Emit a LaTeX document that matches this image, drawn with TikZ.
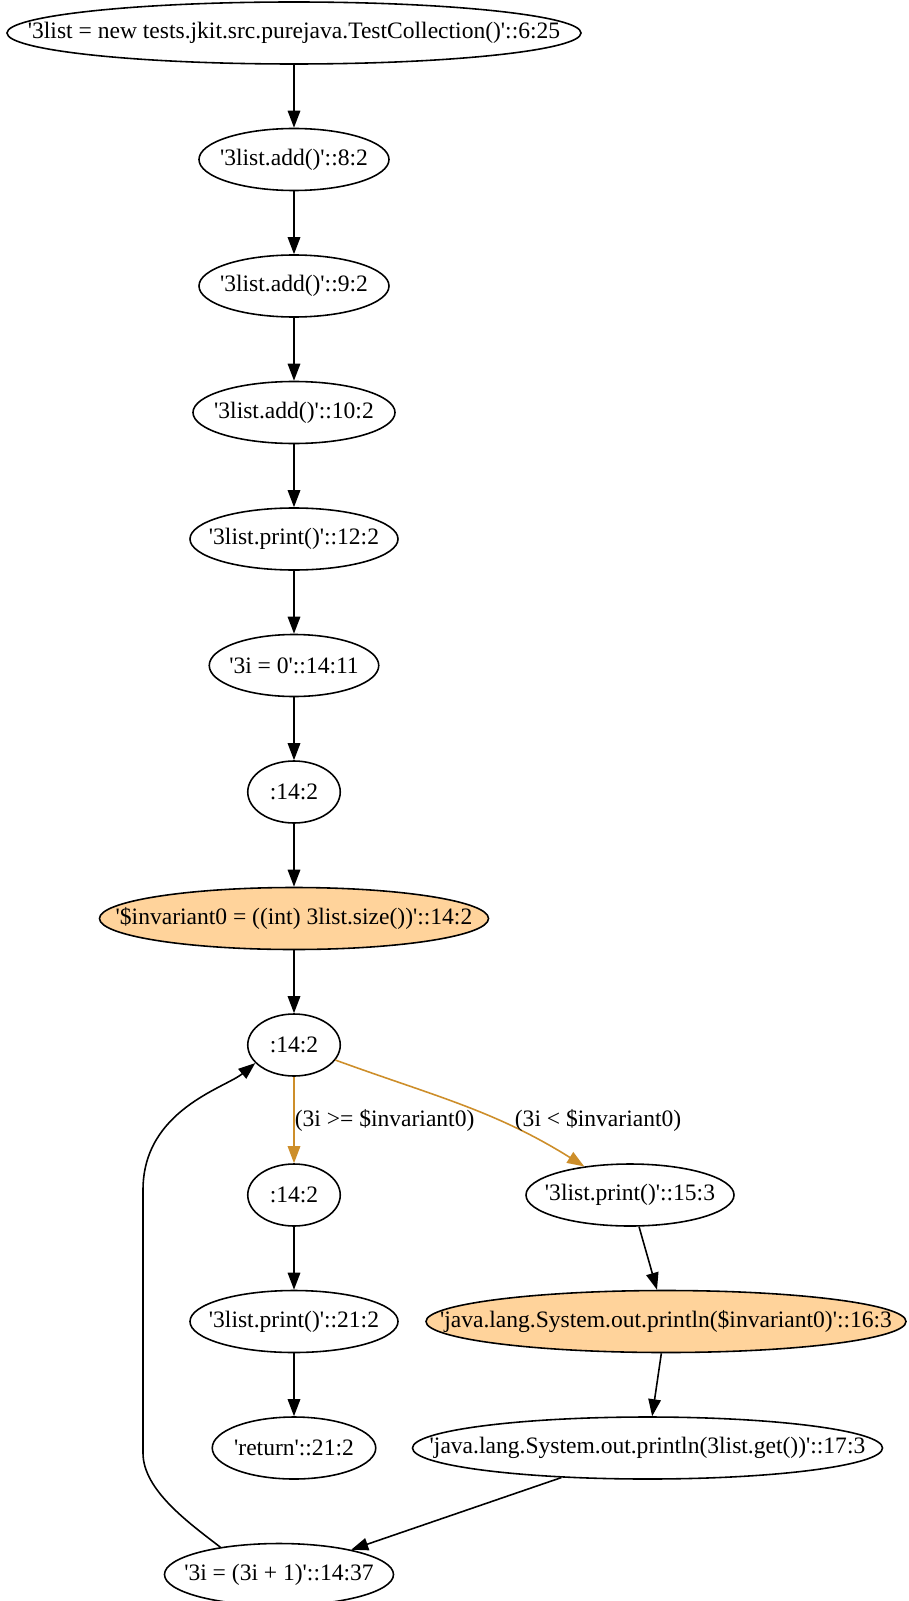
\documentclass[tikz,border=0pt]{standalone}
\usepackage{fontspec}
\usetikzlibrary{shapes.geometric,arrows.meta}
\newfontfamily\gvschrift{Liberation Serif}
\definecolor{zweig}{RGB}{205,142,42}
\definecolor{hell}{RGB}{255,211,155}
\tikzset{
	knoten/.style={ellipse, draw, line width=0.9pt, inner sep=0pt, minimum height=1.24cm,
		font=\gvschrift\fontsize{13.4}{16}\selectfont,
		execute at begin node={\hbox to 0pt\bgroup\hss},
		execute at end node={\hss\egroup}},
	markiert/.style={knoten, fill=hell},
	pfeil/.style={line width=0.9pt, -{Triangle[length=0.34cm, width=0.25cm]}},
	zweigpfeil/.style={pfeil, zweig},
	bedingung/.style={font=\gvschrift\fontsize{13.4}{16}\selectfont, inner sep=0pt, text=black}
}
\begin{document}
\begin{tikzpicture}
			\useasboundingbox (0,0) rectangle (18.16,-32.02);
			
			% Hauptstrang
			\node[knoten, minimum width=11.48cm] (n1) at (5.88,-0.66) {'3list = new tests.jkit.src.purejava.TestCollection()'::6:25};
			\node[knoten, minimum width=3.8cm] (n2) at (5.88,-3.19) {'3list.add()'::8:2};
			\node[knoten, minimum width=3.8cm] (n3) at (5.88,-5.72) {'3list.add()'::9:2};
			\node[knoten, minimum width=4.04cm] (n4) at (5.88,-8.25) {'3list.add()'::10:2};
			\node[knoten, minimum width=4.16cm] (n5) at (5.88,-10.78) {'3list.print()'::12:2};
			\node[knoten, minimum width=3.39cm] (n6) at (5.88,-13.31) {'3i = 0'::14:11};
			\node[knoten, minimum width=1.85cm] (n7) at (5.88,-15.84) {:14:2};
			\node[markiert, minimum width=7.78cm] (n8) at (5.88,-18.37) {'\$invariant0 = ((int) 3list.size())'::14:2};
			\node[knoten, minimum width=1.85cm] (n9) at (5.88,-20.9) {:14:2};
			
			% Verzweigung
			\node[knoten, minimum width=1.85cm] (n10) at (5.88,-23.9) {:14:2};
			\node[knoten, minimum width=4.16cm] (n11) at (12.6,-23.9) {'3list.print()'::15:3};
			\node[knoten, minimum width=4.16cm] (n12) at (5.88,-26.43) {'3list.print()'::21:2};
			\node[markiert, minimum width=9.6cm] (n13) at (13.32,-26.43) {'java.lang.System.out.println(\$invariant0)'::16:3};
			\node[knoten, minimum width=3.27cm] (n14) at (5.88,-28.96) {'return'::21:2};
			\node[knoten, minimum width=9.4cm] (n15) at (12.95,-28.96) {'java.lang.System.out.println(3list.get())'::17:3};
			\node[knoten, minimum width=4.58cm] (n16) at (5.58,-31.49) {'3i = (3i + 1)'::14:37};
			
			% Kanten
			\draw[pfeil] (n1) -- (n2);
			\draw[pfeil] (n2) -- (n3);
			\draw[pfeil] (n3) -- (n4);
			\draw[pfeil] (n4) -- (n5);
			\draw[pfeil] (n5) -- (n6);
			\draw[pfeil] (n6) -- (n7);
			\draw[pfeil] (n7) -- (n8);
			\draw[pfeil] (n8) -- (n9);
			\draw[zweigpfeil] (n9) -- node[bedingung, pos=0.5, anchor=west] (b1) {(3i >= \$invariant0)} (n10);
			\draw[zweigpfeil] (n9) to[out=-20, in=148] node[bedingung, pos=0.65, anchor=west, xshift=0.32cm] (b2) {(3i < \$invariant0)} (n11);
			\draw[pfeil] (n10) -- (n12);
			\draw[pfeil] (n12) -- (n14);
			\draw[pfeil] (n11) -- (n13);
			\draw[pfeil] (n13) -- (n15);
			\draw[pfeil] (n15) -- (n16);
			
			% Ruecksprung
			\draw[pfeil] (n16.155) .. controls (3.78,-30.46) and (2.86,-29.8) .. (2.86,-29.06) -- (2.86,-23.8) .. controls (2.86,-22.2) and (4.5,-21.76) .. (n9.205);
			
\end{tikzpicture}
\end{document}
